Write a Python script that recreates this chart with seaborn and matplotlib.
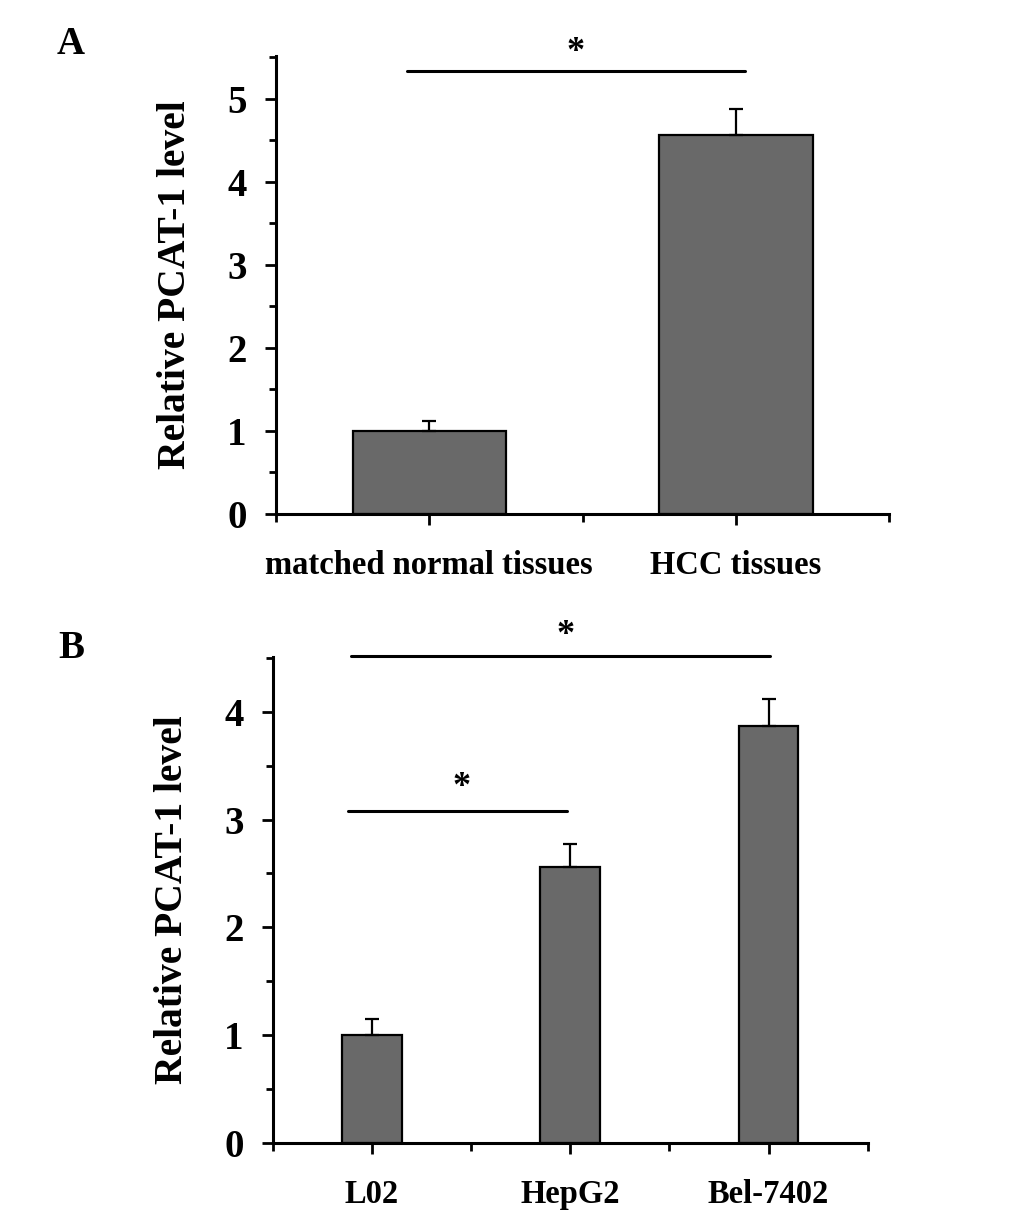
import matplotlib
matplotlib.use("Agg")
import matplotlib.pyplot as plt
import seaborn as sns
import numpy as np
from matplotlib.ticker import MultipleLocator, FixedLocator

# ---- data ----
cats_a = ["matched normal tissues", "HCC tissues"]
vals_a = [1.0, 4.56]
err_a = [0.125, 0.32]

cats_b = ["L02", "HepG2", "Bel-7402"]
vals_b = [1.0, 2.56, 3.87]
err_b = [0.155, 0.21, 0.25]

ylabel = "Relative PCAT-1 level"

sns.set_theme(style="white")
plt.rcParams['font.family'] = ['Liberation Serif', 'DejaVu Serif']
plt.rcParams['font.weight'] = 'bold'
plt.rcParams['text.color'] = 'black'
plt.rcParams['axes.labelcolor'] = 'black'
plt.rcParams['xtick.color'] = 'black'
plt.rcParams['ytick.color'] = 'black'

fig = plt.figure(figsize=(10.33, 12.22), dpi=100)
axA = fig.add_axes([0.267, 0.5794, 0.594, 0.375])
axB = fig.add_axes([0.264, 0.0646, 0.576, 0.398])

bar_color = "#696969"


def style_axis(ax, ymax, ncat):
    for s in ["top", "right"]:
        ax.spines[s].set_visible(False)
    for s in ["left", "bottom"]:
        ax.spines[s].set_linewidth(2.2)
        ax.spines[s].set_color("black")
    ax.set_xlim(-0.5, ncat - 0.5)
    ax.set_ylim(0, ymax)
    ax.yaxis.set_major_locator(MultipleLocator(1))
    ax.yaxis.set_minor_locator(MultipleLocator(0.5))
    ax.xaxis.set_minor_locator(FixedLocator(np.arange(-0.5, ncat, 1.0)))
    ax.tick_params(axis="y", which="major", direction="out", length=8, width=2,
                   labelsize=28, pad=13, left=True, color="black")
    ax.tick_params(axis="y", which="minor", direction="out", length=5, width=2,
                   left=True, color="black")
    ax.tick_params(axis="x", which="major", direction="out", length=8, width=2,
                   labelsize=23.5, pad=18, bottom=True, color="black")
    ax.tick_params(axis="x", which="minor", direction="out", length=6, width=2,
                   bottom=True, color="black")
    for lab in ax.get_yticklabels() + ax.get_xticklabels():
        lab.set_fontweight("bold")
        lab.set_color("black")
    ax.set_ylabel(ylabel, fontsize=28.5, fontweight="bold", color="black", labelpad=24)
    ax.set_xlabel("")
    ax.set_facecolor("white")


# ---- Panel A ----
sns.barplot(x=cats_a, y=vals_a, color=bar_color, saturation=1, edgecolor="black",
            linewidth=1.6, width=0.5, ax=axA, errorbar=None)
axA.errorbar(range(len(cats_a)), vals_a, yerr=[np.zeros(len(err_a)), err_a],
             fmt="none", ecolor="black", elinewidth=1.6, capsize=5, capthick=1.6)
style_axis(axA, 5.52, len(cats_a))
axA.plot([-0.072, 1.03], [5.34, 5.34], color="black", lw=2.2, clip_on=False)
axA.text(0.477, 5.36, "*", ha="center", va="bottom", fontsize=26, fontweight="bold",
         color="black", clip_on=False)

# ---- Panel B ----
sns.barplot(x=cats_b, y=vals_b, color=bar_color, saturation=1, edgecolor="black",
            linewidth=1.6, width=0.3, ax=axB, errorbar=None)
axB.errorbar(range(len(cats_b)), vals_b, yerr=[np.zeros(len(err_b)), err_b],
             fmt="none", ecolor="black", elinewidth=1.6, capsize=5, capthick=1.6)
style_axis(axB, 4.51, len(cats_b))
axB.plot([-0.106, 2.005], [4.52, 4.52], color="black", lw=2.2, clip_on=False)
axB.text(0.975, 4.55, "*", ha="center", va="bottom", fontsize=26, fontweight="bold",
         color="black", clip_on=False)
axB.plot([-0.12, 0.985], [3.08, 3.08], color="black", lw=2.2, clip_on=False)
axB.text(0.45, 3.14, "*", ha="center", va="bottom", fontsize=26, fontweight="bold",
         color="black", clip_on=False)

# panel letters
fig.text(71 / 1033, 1 - 45 / 1222, "A", ha="center", va="center", fontsize=28,
         fontweight="bold", color="black")
fig.text(71 / 1033, 1 - 648 / 1222, "B", ha="center", va="center", fontsize=28,
         fontweight="bold", color="black")

fig.savefig("out.png", dpi=100, facecolor="white")
